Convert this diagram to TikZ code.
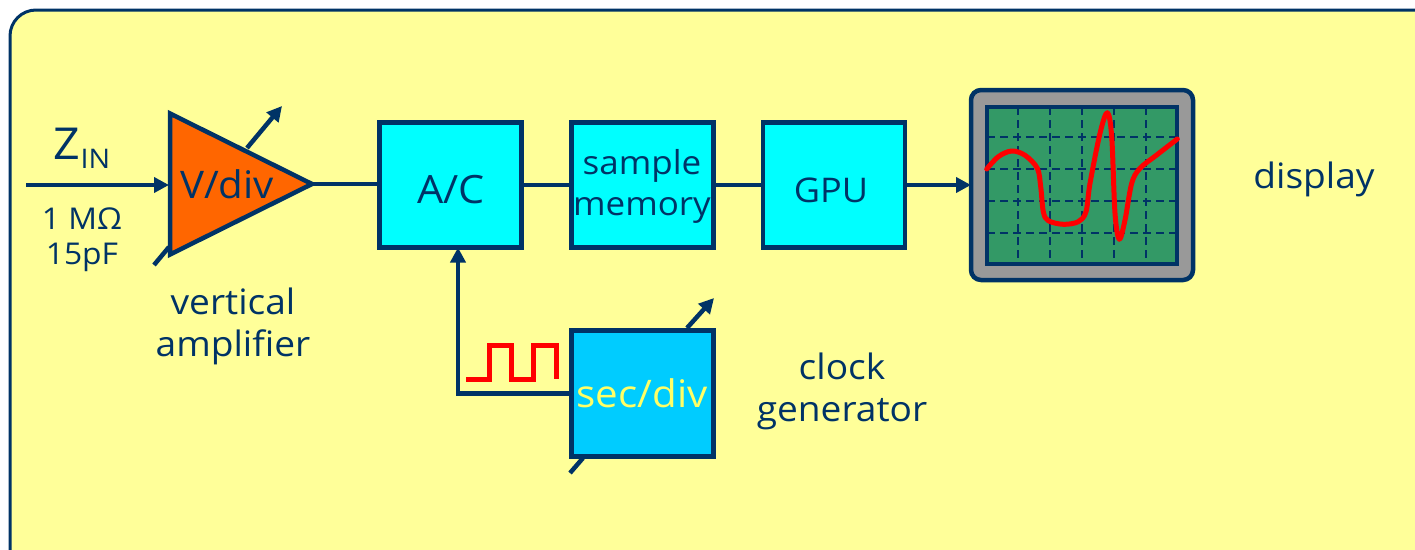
\documentclass[tikz,border=0pt]{standalone}
\usepackage{fontspec}
\setmainfont[FakeStretch=1.06]{Open Sans}
\usetikzlibrary{arrows.meta,shapes.geometric}
\definecolor{navy}{HTML}{003366}
\definecolor{panel}{HTML}{FFFF99}
\definecolor{ampfill}{HTML}{FF6600}
\definecolor{boxfill}{HTML}{00FFFF}
\definecolor{clockfill}{HTML}{00CCFF}
\definecolor{screenfill}{HTML}{339966}
\definecolor{scopegray}{HTML}{999999}
\definecolor{divyellow}{HTML}{FFFF66}
\definecolor{tracered}{HTML}{FF0000}
\tikzset{
  wire/.style={navy,line width=4.5pt},
  block/.style={draw=navy,line width=4.5pt,fill=boxfill,minimum width=142pt,minimum height=125pt,inner sep=0pt,outer sep=0pt},
  lbl/.style={text=navy,align=center,inner sep=0pt,font=\fontsize{35}{42}\selectfont},
  trace/.style={tracered,line width=5pt}
}
\begin{document}
\begin{tikzpicture}[x=1pt,y=-1pt,>={Triangle[length=15pt,width=15pt]}]
\clip (0,0) rectangle (1415,549);
\fill[white] (0,0) rectangle (1415,549);
\draw[navy,fill=panel,line width=3pt,rounded corners=26pt] (10,10) rectangle (1445,579);
\node[draw=navy,line width=4.5pt,fill=ampfill,isosceles triangle,isosceles triangle stretches,shape border rotate=0,
  minimum width=141pt,minimum height=142pt,inner sep=0pt,outer sep=0pt,anchor=lower side] (amp) at (170,184) {};
\node[block] (adc) at (450.5,185) {};
\node[block] (sample) at (642.5,185) {};
\node[block] (gpu) at (834,185) {};
\node[block,fill=clockfill,minimum height=126pt] (secdiv) at (642.5,393.5) {};
\node[draw=navy,line width=4.5pt,fill=scopegray,rounded corners=10pt,minimum width=222pt,minimum height=190pt,outer sep=0pt] (scope) at (1082,185) {};
\node[draw=navy,line width=4.5pt,fill=screenfill,minimum width=190pt,minimum height=157pt,outer sep=0pt] (screen) at (1082,185.5) {};
\foreach \x in {1018,1050,1082,1114,1146}
  \draw[navy,line width=2.5pt,dash pattern=on 8pt off 5pt] (\x,107) -- (\x,264);
\foreach \y in {137,169,201,233}
  \draw[navy,line width=2.5pt,dash pattern=on 8pt off 5pt] (987,\y) -- (1177,\y);
\draw[trace,line cap=round,line join=round] plot[smooth,tension=0.55] coordinates {(986.7,169) (998.3,156.7) (1011.7,151) (1025,155.3) (1037.3,168.3) (1040.7,186.7) (1043.3,211.7) (1048.3,220.7) (1063.3,224.3) (1078.3,221.7) (1086,211.7) (1090,183.3) (1100,133.3) (1107.3,112.7) (1111.7,136.7) (1115,213.3) (1119.3,239.3) (1125,220) (1131.7,183.3) (1140,168.3) (1156.7,155) (1177.3,139)};
\coordinate (zin) at (26,185);
\coordinate (ampin) at (169,185);
\coordinate (ampup) at (247,148);
\coordinate (ampuptip) at (282,106);
\coordinate (ampdown) at (169,247);
\coordinate (ampdownend) at (154,265);
\coordinate (clk) at (458,393.5);
\coordinate (clkup) at (687,328);
\coordinate (clkuptip) at (714,298);
\coordinate (clkdown) at (583,458);
\coordinate (clkdownend) at (570,473);
\draw[wire,->] (zin) -- (ampin);
\draw[wire,->] (ampup) -- (ampuptip);
\draw[wire] (ampdown) -- (ampdownend);
\draw[wire] (amp.apex) -- (amp.apex -| adc.west);
\draw[wire] (adc.east) -- (sample.west);
\draw[wire] (sample.east) -- (gpu.west);
\draw[wire,->] (gpu.east) -- (scope.west);
\draw[wire,->] (secdiv.west) -- (clk) -- (clk |- adc.south);
\draw[wire,->] (clkup) -- (clkuptip);
\draw[wire] (clkdown) -- (clkdownend);
\draw[trace] (466,379) -- (489,379) -- (489,345) -- (511,345) -- (511,379) -- (533,379) -- (533,345) -- (556,345) -- (556,379);
\node[lbl,font=\fontsize{38}{42}\selectfont] (amptext) at (227,184) {V/div};
\node[lbl,font=\fontsize{39}{41}\selectfont] (adctext) at (451,190) {A/C};
\node[lbl,font=\fontsize{33}{41}\selectfont] (sampletext) at (642,186) {sample\\memory};
\node[lbl,font=\fontsize{34}{41}\selectfont] (gputext) at (831,190) {GPU};
\node[lbl,font=\fontsize{38}{41}\selectfont,text=divyellow] (secdivtext) at (642,393) {sec/div};
\node[lbl,font=\fontsize{44}{44}\selectfont] (zlabel) at (82,148) {Z\raisebox{-9pt}{\fontsize{27}{27}\selectfont IN}};
\node[lbl,font=\fontsize{30}{35}\selectfont] (zvalue) at (82,240) {1 MΩ\\15pF};
\node[lbl] (amplabel) at (233,326) {vertical\\amplifier};
\node[lbl] (clklabel) at (842,391) {clock\\generator};
\node[lbl] (displabel) at (1314,179) {display};
\end{tikzpicture}
\end{document}
